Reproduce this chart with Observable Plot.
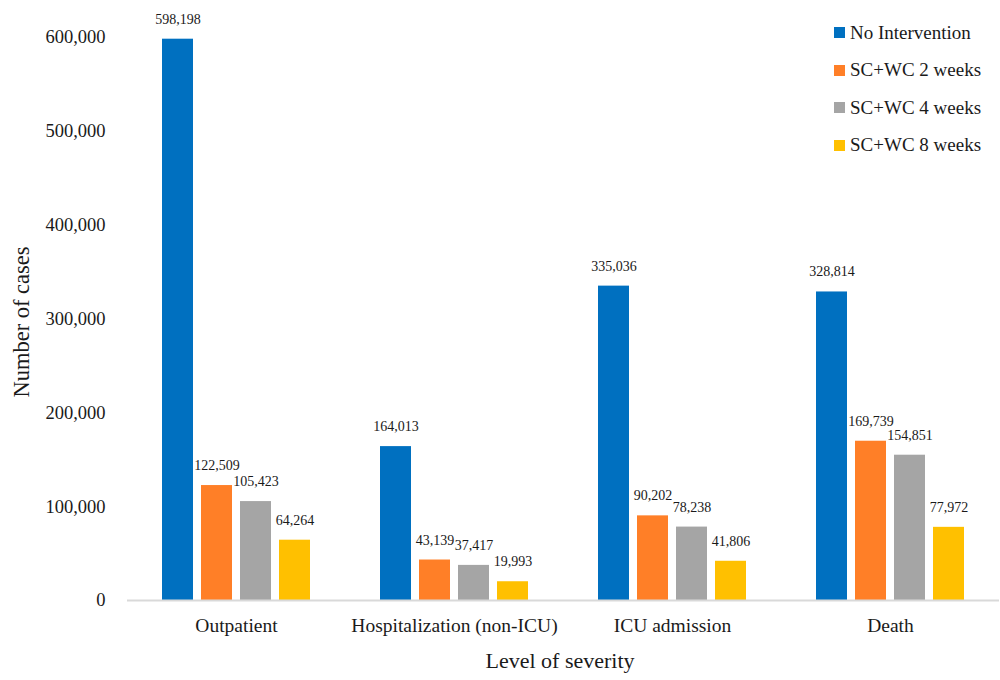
<!DOCTYPE html>
<html>
<head>
<meta charset="utf-8">
<script src="https://cdn.jsdelivr.net/npm/d3@7"></script>
<script src="https://cdn.jsdelivr.net/npm/@observablehq/plot@0.6"></script>
<style>
  html, body { margin: 0; padding: 0; background: #fff; }
  #wrap { position: relative; width: 1000px; height: 680px; font-family: "Liberation Serif", serif; color: #1a1a1a; }
  .title-x { position: absolute; left: 0; width: 1120px; top: 648px; text-align: center; font-size: 22px; }
  .title-y { position: absolute; left: 22px; top: 322px; transform: translate(-50%, -50%) rotate(-90deg); font-size: 22.5px; white-space: nowrap; }
  .legend { position: absolute; left: 834px; top: 14px; }
  .legend .row { display: flex; align-items: center; height: 37.5px; font-size: 19px; white-space: nowrap; }
  .legend .sw { width: 11px; height: 11px; margin-right: 5px; display: inline-block; }
</style>
</head>
<body>
<div id="wrap">
  <div id="chart"></div>
  <div class="title-y">Number of cases</div>
  <div class="title-x">Level of severity</div>
  <div class="legend" id="legend"></div>
</div>
<script>
const categories = ["Outpatient", "Hospitalization (non-ICU)", "ICU admission", "Death"];
const series = ["No Intervention", "SC+WC 2 weeks", "SC+WC 4 weeks", "SC+WC 8 weeks"];
const noIntervention = [598198, 164013, 335036, 328814];
const scwc2 = [122509, 43139, 90202, 169739];
const scwc4 = [105423, 37417, 78238, 154851];
const scwc8 = [64264, 19993, 41806, 77972];
const colors = ["#0070C0", "#FF7F27", "#A5A5A5", "#FFC000"];
const yTicks = [0, 100000, 200000, 300000, 400000, 500000, 600000];

const seriesValues = [noIntervention, scwc2, scwc4, scwc8];
const data = [];
categories.forEach((c, i) => {
  series.forEach((s, j) => {
    data.push({category: c, series: s, value: seriesValues[j][i]});
  });
});

const fmt = d3.format(",");

const chart = Plot.plot({
  width: 1000,
  height: 680,
  marginLeft: 125,
  marginRight: 0,
  marginTop: 37,
  marginBottom: 80,
  style: {fontFamily: "'Liberation Serif', serif", color: "#1a1a1a", background: "#fff"},
  fx: {domain: categories, paddingInner: 0, paddingOuter: 0},
  x: {domain: series, paddingInner: 0.2, paddingOuter: 0.84, axis: null},
  y: {domain: [0, 600000]},
  color: {domain: series, range: colors},
  marks: [
    Plot.axisY({ticks: yTicks, tickFormat: fmt, tickSize: 0, tickPadding: 22, fontSize: 18.5, label: null}),
    Plot.axisFx({anchor: "bottom", tickSize: 0, tickPadding: 18, fontSize: 19.5, label: null}),
    Plot.barY(data, {fx: "category", x: "series", y: "value", fill: "series"}),
    Plot.ruleY([0], {stroke: "#d9d9d9", strokeWidth: 2}),
    Plot.text(data, {fx: "category", x: "series", y: "value", text: d => fmt(d.value), dy: -20, fontSize: 14, fill: "#1a1a1a"})
  ]
});
document.getElementById("chart").appendChild(chart);

const legend = document.getElementById("legend");
series.forEach((s, j) => {
  const row = document.createElement("div");
  row.className = "row";
  const sw = document.createElement("span");
  sw.className = "sw";
  sw.style.background = colors[j];
  row.appendChild(sw);
  row.appendChild(document.createTextNode(s));
  legend.appendChild(row);
});
</script>
</body>
</html>
